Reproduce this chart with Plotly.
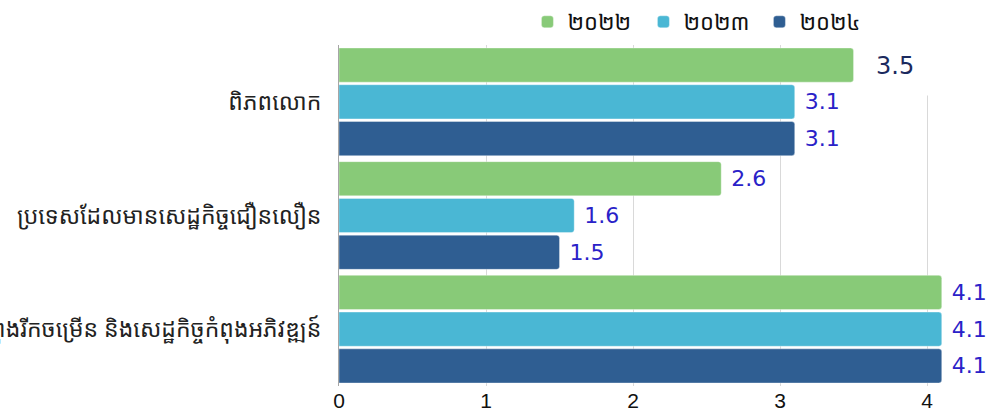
import plotly.graph_objects as go

categories = ["ពិភពលោក", "ប្រទេសដែលមានសេដ្ឋកិច្ចជឿនលឿន",
              "ប្រទេសកំពុងរីកចម្រើន និងសេដ្ឋកិច្ចកំពុងអភិវឌ្ឍន៍"]
series_names = ["២០២២", "២០២៣", "២០២៤"]
values_2022 = [3.5, 2.6, 4.1]
values_2023 = [3.1, 1.6, 4.1]
values_2024 = [3.1, 1.5, 4.1]
x_ticks = [0, 1, 2, 3, 4]

colors = ["#88CA78", "#4AB7D4", "#2F5E92"]
label_color = "#2A22C8"
font_family = "Noto Sans Khmer, Khmer OS System, Noto Sans, sans-serif"
num_font = "DejaVu Sans, Verdana, sans-serif"

W, H = 991, 414
M_L, M_T, M_B = 339, 45, 28
plot_h = H - M_T - M_B

fig = go.Figure()
all_values = [values_2022, values_2023, values_2024]
for i, (name, vals) in enumerate(zip(series_names, all_values)):
    texts = []
    for j, v in enumerate(vals):
        if i == 0 and j == 0:
            texts.append("")  # drawn as boxed annotation below
        else:
            texts.append(" " + f"{v:.1f}")
    fig.add_trace(go.Bar(
        name=name, y=categories, x=vals, orientation="h",
        marker=dict(color=colors[i], line=dict(width=0.6, color="rgba(255,255,255,0.6)")),
        text=texts, textposition="outside", cliponaxis=False,
        constraintext="none",
        textfont=dict(size=22, color=label_color, family=num_font),
        hoverinfo="skip",
    ))

fig.add_annotation(
    x=values_2022[0], y=categories[0], xref="x", yref="y",
    text=f"{values_2022[0]:.1f}", showarrow=False,
    xanchor="left", yanchor="middle", xshift=6, yshift=36,
    bgcolor="white", borderpad=15,
    font=dict(size=24, color="#1B2A5E", family=num_font),
)

fig.update_layout(
    width=W, height=H,
    margin=dict(l=M_L, r=0, t=M_T, b=M_B),
    paper_bgcolor="white", plot_bgcolor="white",
    barmode="group", bargap=0.03, bargroupgap=0.07, barcornerradius=3,
    font=dict(family=font_family, size=23, color="#222222"),
    showlegend=True,
    legend=dict(orientation="h", x=0.289, xanchor="left",
                y=1 + (M_T - 1) / plot_h, yanchor="top",
                bgcolor="rgba(0,0,0,0)",
                font=dict(size=22, color="#111111"), traceorder="normal",
                entrywidth=71, itemwidth=30),
    xaxis=dict(range=[0, 4.435], tickvals=x_ticks, showgrid=True, gridcolor="#D9D9D9",
               gridwidth=1, zeroline=False, showline=False, ticks="",
               tickfont=dict(size=21, color="#111111", family="Liberation Sans Narrow, Liberation Sans, sans-serif"),
               automargin=False),
    yaxis=dict(autorange="reversed", showline=True, linecolor="#A6A6A6", linewidth=1,
               ticks="", ticklabelstandoff=12, tickfont=dict(size=23, color="#222222"),
               automargin=False),
)

fig.write_html("out.html", config={"displayModeBar": False},
               post_script="document.body.style.margin='0px';")
